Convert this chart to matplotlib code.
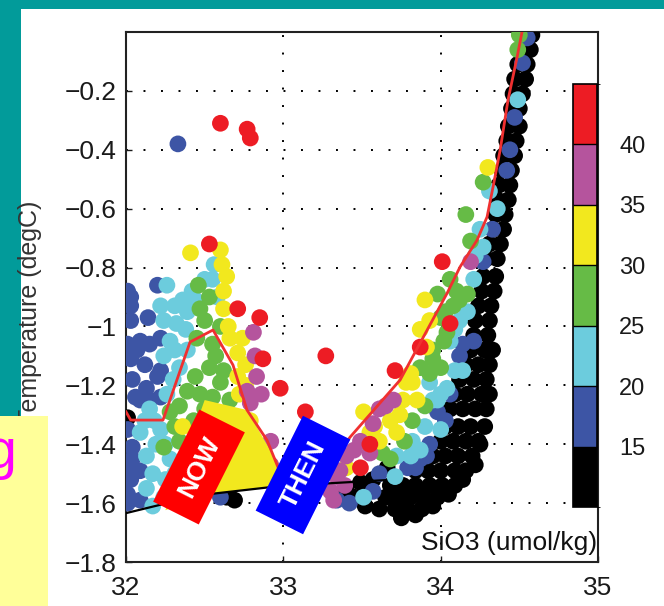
import matplotlib
matplotlib.use("Agg")
import matplotlib.pyplot as plt
import numpy as np
from matplotlib.colors import ListedColormap, BoundaryNorm
from matplotlib.patches import Rectangle, Polygon
from matplotlib.transforms import Affine2D
import matplotlib.colorbar as mcolorbar

# ---------------- data ----------------
black_S = [34.54, 34.58, 34.52, 34.57, 34.49, 34.55, 34.47, 34.54, 34.46, 34.52,
           34.45, 34.50, 34.43, 34.50, 34.42, 34.48, 34.40, 34.47, 34.39, 34.45,
           34.37, 34.44, 34.36, 34.43, 34.35, 34.41, 34.33, 34.40, 34.31, 34.38,
           34.29, 34.36, 34.27, 34.35, 34.26, 34.34, 34.24, 34.32, 34.22, 34.31,
           34.21, 34.30, 34.19, 34.28, 34.33, 34.16, 34.24, 34.31, 34.12, 34.21,
           34.29, 34.09, 34.17, 34.26, 34.31, 34.06, 34.14, 34.22, 34.29, 34.03,
           34.11, 34.19, 34.28, 34.00, 34.08, 34.16, 34.24, 33.95, 34.03, 34.11,
           34.20, 33.84, 33.92, 34.00, 34.09, 34.16, 33.68, 33.76, 33.84, 33.93,
           34.01, 34.09, 33.65, 33.73, 33.81, 33.89, 33.98, 33.71, 33.79, 33.88,
           33.40, 33.49, 33.57, 33.45, 33.66, 32.01, 32.64, 32.69,
           33.36, 33.52, 33.61,
           34.25, 34.22, 34.14, 34.05, 33.95, 33.84, 33.75]
black_T = [-0.01, -0.01, -0.06, -0.06, -0.11, -0.11, -0.16, -0.16, -0.21, -0.21,
           -0.26, -0.26, -0.32, -0.32, -0.37, -0.37, -0.42, -0.42, -0.47, -0.47,
           -0.52, -0.52, -0.57, -0.57, -0.62, -0.62, -0.67, -0.67, -0.72, -0.72,
           -0.77, -0.77, -0.83, -0.83, -0.88, -0.88, -0.93, -0.93, -0.98, -0.98,
           -1.03, -1.03, -1.08, -1.08, -1.08, -1.13, -1.13, -1.13, -1.18, -1.18,
           -1.18, -1.23, -1.23, -1.23, -1.23, -1.28, -1.28, -1.28, -1.28, -1.34,
           -1.34, -1.34, -1.34, -1.39, -1.39, -1.39, -1.39, -1.44, -1.44, -1.44,
           -1.44, -1.49, -1.49, -1.49, -1.49, -1.49, -1.54, -1.54, -1.54, -1.54,
           -1.54, -1.54, -1.58, -1.58, -1.58, -1.58, -1.58, -1.62, -1.62, -1.62,
           -1.55, -1.53, -1.52, -1.58, -1.48, -1.31, -1.58, -1.59,
           -1.58, -1.61, -1.62,
           -1.40, -1.47, -1.52, -1.57, -1.61, -1.64, -1.65]

blue_S = [32.33, 32.01, 32.03, 32.03, 32.20, 32.14, 32.03, 32.07, 32.15, 32.22,
          32.04, 32.13, 32.20, 32.15, 32.09, 32.04, 32.04, 32.03, 32.01, 32.09,
          32.01, 32.60, 33.98, 33.87, 33.61, 33.57, 33.34, 33.42, 34.33, 34.27,
          34.21, 34.14, 34.12, 34.55, 34.52, 34.47, 34.44, 34.42, 33.91, 33.79,
          32.03, 32.09, 32.01, 32.12, 32.06, 32.22, 32.01, 32.09, 32.01, 32.22,
          34.06, 34.03, 33.93, 33.84]
blue_T = [-0.38, -0.88, -0.93, -0.90, -0.86, -0.97, -1.11, -1.08, -1.06, -1.04,
          -1.18, -1.21, -1.17, -1.25, -1.25, -1.41, -1.45, -1.52, -1.57, -1.59,
          -1.60, -1.58, -1.29, -1.45, -1.50, -1.56, -1.59, -1.60, -0.67, -0.78,
          -1.05, -1.06, -1.10, -0.02, -0.105, -0.29, -0.40, -0.47, -1.44, -1.48,
          -0.98, -1.05, -1.06, -1.13, -1.24, -1.24, -1.35, -1.49, -1.49, -1.15,
          -1.23, -1.32, -1.40, -1.48]

cyan_S = [32.26, 32.36, 32.42, 32.55, 32.58, 32.24, 32.32, 32.39, 32.28, 32.24,
          32.34, 32.39, 32.30, 32.15, 32.26, 32.09, 32.13, 32.17, 32.13, 32.24,
          32.17, 32.22, 32.28, 33.51, 34.04, 33.95, 34.06, 33.82, 33.72, 33.87,
          34.27, 34.21, 34.17, 34.09, 34.14, 33.93, 33.98, 34.49, 34.31, 34.36,
          32.22, 32.31, 32.44, 32.50, 32.56, 32.38, 32.31, 32.18, 32.25, 32.19,
          32.12, 32.31, 32.25, 32.34, 32.28,
          34.00, 33.90, 33.81, 34.09, 34.12, 34.22, 34.25, 33.71, 34.00]
cyan_T = [-0.86, -0.91, -0.88, -0.84, -0.90, -0.98, -0.99, -0.95, -1.05, -1.10,
          -1.14, -1.08, -1.18, -1.28, -1.23, -1.36, -1.44, -1.50, -1.55, -1.58,
          -1.61, -1.35, -1.45, -1.58, -1.21, -1.25, -1.05, -1.39, -1.44, -1.42,
          -0.73, -0.84, -0.95, -1.01, -1.15, -1.19, -1.25, -0.23, -0.54, -0.60,
          -0.93, -0.93, -0.91, -0.84, -0.79, -1.01, -1.08, -1.32, -1.40, -1.40,
          -1.32, -1.50, -1.52, -1.57, -1.59,
          -1.35, -1.34, -1.44, -1.15, -0.98, -0.76, -0.67, -1.51, -1.23]

green_S = [32.46, 32.47, 32.53, 32.45, 32.55, 32.53, 32.62, 32.39, 32.47, 32.55,
           32.66, 32.34, 32.28, 32.24, 32.43, 33.87, 33.95, 34.04, 34.00, 34.08,
           33.82, 33.63, 33.68, 34.16, 34.06, 33.98, 34.17, 34.02, 33.95, 34.00,
           34.27, 34.49, 34.50,
           32.50, 32.60, 32.50, 32.60, 32.44, 32.31, 32.34, 32.57,
           33.90, 33.77, 34.10, 34.03, 33.93, 34.19, 34.12]
green_T = [-0.86, -0.94, -0.90, -1.04, -1.06, -1.14, -1.15, -1.22, -1.23, -1.24,
           -1.25, -1.27, -1.29, -1.41, -1.32, -1.14, -1.11, -1.02, -0.97, -0.93,
           -1.32, -1.43, -1.45, -0.62, -0.84, -0.89, -0.89, -1.05, -1.08, -1.14,
           -0.51, -0.06, -0.01,
           -0.98, -1.00, -1.28, -1.19, -1.17, -1.34, -1.39, -1.10,
           -1.27, -1.39, -0.88, -0.95, -1.16, -0.71, -0.91]

yellow_S = [32.41, 32.60, 32.61, 32.62, 32.62, 32.66, 32.71, 32.71, 32.36, 32.68,
            32.76, 32.72, 32.79, 33.51, 33.68, 33.76, 33.82, 33.85, 33.51, 33.55,
            33.72, 33.40, 33.90, 33.91, 33.81, 34.30,
            32.65, 32.74, 32.76, 32.69, 32.79, 32.64,
            33.58, 33.61, 33.78, 33.87, 33.74, 33.93]
yellow_T = [-0.75, -0.74, -0.79, -0.88, -0.94, -1.04, -1.09, -1.17, -1.34, -1.39,
            -1.13, -1.23, -1.32, -1.29, -1.32, -1.25, -1.19, -1.25, -1.40, -1.36,
            -1.36, -1.48, -0.91, -1.07, -1.16, -0.46,
            -1.00, -1.04, -1.20, -1.32, -1.39, -0.83,
            -1.34, -1.39, -1.19, -1.01, -1.30, -0.98]

magenta_S = [32.81, 32.77, 32.79, 32.87, 32.85, 33.57, 33.49, 33.40, 33.34, 33.30,
             33.61, 33.70, 33.55, 33.32, 34.19, 32.83,
             32.82, 32.86, 32.92, 32.92, 33.45, 33.36, 33.65, 33.39]
magenta_T = [-1.02, -1.22, -1.26, -1.42, -1.52, -1.33, -1.39, -1.44, -1.51, -1.56,
             -1.28, -1.25, -1.43, -1.59, -0.78, -1.17,
             -1.10, -1.23, -1.39, -1.47, -1.42, -1.49, -1.27, -1.54]

red_S = [32.60, 32.77, 32.79, 32.53, 32.71, 32.85, 32.87, 32.98, 33.27, 33.14,
         33.87, 34.01, 33.71, 34.06, 33.55, 33.49]
red_T = [-0.31, -0.33, -0.36, -0.72, -0.94, -0.97, -1.11, -1.21, -1.10, -1.29,
         -1.07, -0.78, -1.15, -0.99, -1.40, -1.48]

class_values = [12.5, 17.5, 22.5, 27.5, 32.5, 37.5, 42.5]

red_line_S = [32.00, 32.03, 32.235, 32.407, 32.553, 32.680, 32.769, 32.896, 32.966,
              33.106, 33.30, 33.424, 33.742, 34.041, 34.123, 34.231, 34.295, 34.333,
              34.378, 34.428, 34.486, 34.517]
red_line_T = [-1.29, -1.318, -1.318, -1.053, -1.012, -1.131, -1.284, -1.386, -1.478,
              -1.522, -1.47, -1.376, -1.182, -0.887, -0.798, -0.707, -0.628, -0.526,
              -0.401, -0.231, -0.085, 0.0]

black_line_S = [32.00, 32.47, 32.98, 33.647]
black_line_T = [-1.634, -1.573, -1.542, -1.522]

poly_S = [32.50, 32.77, 32.98, 33.01, 32.57, 32.25]
poly_T = [-1.25, -1.284, -1.48, -1.54, -1.566, -1.624]

cbar_bounds = [10, 15, 20, 25, 30, 35, 40, 45]
cbar_ticks = [15, 20, 25, 30, 35, 40]
x_ticks = [32, 33, 34, 35]
y_ticks = [-1.8, -1.6, -1.4, -1.2, -1, -0.8, -0.6, -0.4, -0.2]

# ---------------- styling ----------------
W, H = 664, 606
plt.rcParams['font.family'] = ['Liberation Sans', 'DejaVu Sans']
colors = ['#000000', '#3D55A5', '#6CCCDD', '#66BB46', '#F2E81E', '#B5549D', '#ED1C24']
cmap = ListedColormap(colors)
norm = BoundaryNorm(cbar_bounds, cmap.N)

fig = plt.figure(figsize=(W / 100, H / 100), dpi=100)
fig.patch.set_facecolor('#029B9A')

def fx(px):
    return px / W

def fy(py):
    return 1 - py / H

fig.add_artist(Rectangle((fx(21), 0), 1 - fx(21), fy(9), transform=fig.transFigure,
                         facecolor='white', edgecolor='none', zorder=-5))
fig.add_artist(Rectangle((0, 0), fx(48), fy(416), transform=fig.transFigure,
                         facecolor='#FFFF99', edgecolor='none', zorder=6))
fig.text(fx(17), fy(468), 'g', color='#FF00FF', fontsize=40, ha='right',
         va='baseline', zorder=7)

ax = fig.add_axes([fx(126), fy(562), fx(598) - fx(126), fy(32) - fy(562)])
ax.set_xlim(32, 35)
ax.set_ylim(-1.8, 0)
ax.set_xticks(x_ticks)
ax.set_yticks(y_ticks)
ax.set_yticklabels(['\u22121.8', '\u22121.6', '\u22121.4', '\u22121.2', '\u22121',
                    '\u22120.8', '\u22120.6', '\u22120.4', '\u22120.2'])
ax.tick_params(direction='in', length=4, width=1, labelsize=19, colors='#1a1a1a',
               pad=7)
ax.tick_params(axis='x', pad=10)
ax.grid(True, color='black', linestyle=(0, (1, 8)), linewidth=1.4)
for sp in ax.spines.values():
    sp.set_linewidth(1.5)
    sp.set_color('#222222')

groups = [(black_S, black_T), (blue_S, blue_T), (cyan_S, cyan_T), (green_S, green_T),
          (yellow_S, yellow_T), (magenta_S, magenta_T), (red_S, red_T)]
for (S, T), v in zip(groups, class_values):
    ax.scatter(S, T, c=[v] * len(S), cmap=cmap, norm=norm, s=145, marker='o',
               linewidths=0, zorder=3)

ax.add_patch(Polygon(np.column_stack([poly_S, poly_T]), closed=True,
                     facecolor='#F2E81E', edgecolor='none', zorder=4))
ax.plot(red_line_S, red_line_T, color='#F03030', linewidth=2.0, zorder=5)
ax.plot(black_line_S, black_line_T, color='black', linewidth=1.6, zorder=5)

ax.text(34.995, -1.735, 'SiO3 (umol/kg)', ha='right', va='center', fontsize=19,
        color='#111111', zorder=6)

fig.text(fx(30), fy(312), 'Temperature (degC)', rotation=90, ha='center',
         va='center', fontsize=18, color='#333333', zorder=3)

cax = fig.add_axes([fx(573), fy(507), fx(597) - fx(573), fy(84) - fy(507)])
cb = mcolorbar.ColorbarBase(cax, cmap=cmap, norm=norm, boundaries=cbar_bounds,
                            ticks=cbar_ticks, drawedges=True)
cb.outline.set_linewidth(1.2)
cb.dividers.set_linewidth(1.0)
cax.tick_params(length=0, labelsize=17, pad=16, colors='#1a1a1a')

pix = Affine2D().scale(1 / W, 1 / H) + fig.transFigure

def tag(cx, cy_down, lw, sw, ang, text, col):
    cy = H - cy_down
    tr = Affine2D().rotate_deg_around(cx, cy, ang) + pix
    fig.add_artist(Rectangle((cx - lw / 2, cy - sw / 2), lw, sw, transform=tr,
                             facecolor=col, edgecolor='none', zorder=8))
    fig.text(cx / W, cy / H, text, rotation=ang, rotation_mode='anchor',
             ha='center', va='center', color='white', fontsize=19,
             fontweight='bold', zorder=9)

tag(199, 467, 103, 51, 63.4, 'NOW', '#FF0000')
tag(303, 475, 106, 53, 63.5, 'THEN', '#0000FF')

fig.savefig('out.png', dpi=100, facecolor=fig.get_facecolor())
